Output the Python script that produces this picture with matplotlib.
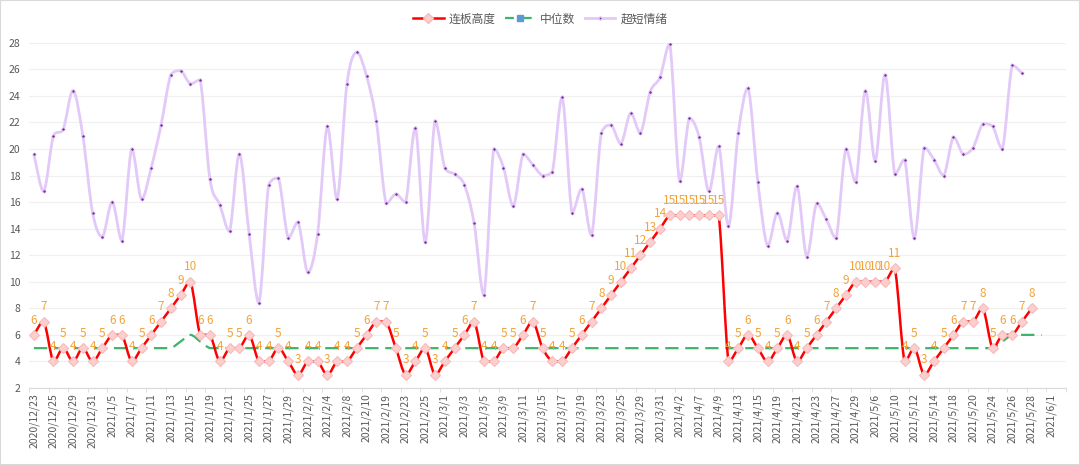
import numpy as np
import matplotlib.pyplot as plt
from matplotlib.path import Path
from matplotlib.patches import PathPatch, Rectangle
from matplotlib.lines import Line2D

plt.rcParams['font.family'] = ['Noto Sans CJK SC', 'DejaVu Sans']

# trading days (category axis), one spare slot at the end
months = [
    ("2020/12", [23, 24, 25, 28, 29, 30, 31]),
    ("2021/1", [4, 5, 6, 7, 8, 11, 12, 13, 14, 15, 18, 19, 20, 21, 22, 25, 26, 27, 28, 29]),
    ("2021/2", [1, 2, 3, 4, 5, 8, 9, 10, 18, 19, 22, 23, 24, 25, 26]),
    ("2021/3", [1, 2, 3, 4, 5, 8, 9, 10, 11, 12, 15, 16, 17, 18, 19, 22, 23, 24, 25, 26, 29, 30, 31]),
    ("2021/4", [1, 2, 6, 7, 8, 9, 12, 13, 14, 15, 16, 19, 20, 21, 22, 23, 26, 27, 28, 29, 30]),
    ("2021/5", [6, 7, 10, 11, 12, 13, 14, 17, 18, 19, 20, 21, 24, 25, 26, 27, 28, 31]),
    ("2021/6", [1]),
]
dates = [f"{m}/{d}" for m, days in months for d in days]

# 连板高度
height = [6, 7, 4, 5, 4, 5, 4, 5, 6, 6,
          4, 5, 6, 7, 8, 9, 10, 6, 6, 4,
          5, 5, 6, 4, 4, 5, 4, 3, 4, 4,
          3, 4, 4, 5, 6, 7, 7, 5, 3, 4,
          5, 3, 4, 5, 6, 7, 4, 4, 5, 5,
          6, 7, 5, 4, 4, 5, 6, 7, 8, 9,
          10, 11, 12, 13, 14, 15, 15, 15, 15, 15,
          15, 4, 5, 6, 5, 4, 5, 6, 4, 5,
          6, 7, 8, 9, 10, 10, 10, 10, 11, 4,
          5, 3, 4, 5, 6, 7, 7, 8, 5, 6,
          6, 7, 8]

# 中位数
median = [5] * 15 + [5.5, 6, 5.5] + [5] * 81 + [5.5, 6, 6, 6, 6]

# 超短情绪
mood = [19.6, 16.8, 21.0, 21.5, 24.4, 21.0, 15.2, 13.4, 16.0, 13.1,
        20.0, 16.2, 18.6, 21.8, 25.6, 25.9, 24.9, 25.2, 17.7, 15.8,
        13.8, 19.6, 13.6, 8.4, 17.3, 17.8, 13.3, 14.5, 10.7, 13.6,
        21.7, 16.2, 24.9, 27.3, 25.5, 22.1, 15.9, 16.6, 16.0, 21.6,
        13.0, 22.1, 18.6, 18.1, 17.3, 14.4, 9.0, 20.0, 18.6, 15.7,
        19.6, 18.8, 18.0, 18.3, 23.9, 15.2, 17.0, 13.5, 21.2, 21.8,
        20.4, 22.7, 21.2, 24.3, 25.4, 27.9, 17.6, 22.3, 20.9, 16.8,
        20.2, 14.2, 21.2, 24.6, 17.5, 12.7, 15.2, 13.1, 17.2, 11.9,
        15.9, 14.7, 13.3, 20.0, 17.5, 24.4, 19.1, 25.6, 18.1, 19.2,
        13.3, 20.1, 19.2, 18.0, 20.9, 19.6, 20.1, 21.9, 21.7, 20.0,
        26.3, 25.7]


def smooth_path(x, y):
    # smoothed line as cubic Bezier segments, control points kept inside each segment's range
    x = np.asarray(x, float)
    y = np.asarray(y, float)
    n = len(x)
    verts = [(x[0], y[0])]
    codes = [Path.MOVETO]
    for i in range(n - 1):
        p0 = max(i - 1, 0)
        p3 = min(i + 2, n - 1)
        lo, hi = min(y[i], y[i + 1]), max(y[i], y[i + 1])
        c1 = (x[i] + (x[i + 1] - x[p0]) / 6, np.clip(y[i] + (y[i + 1] - y[p0]) / 6, lo, hi))
        c2 = (x[i + 1] - (x[p3] - x[i]) / 6, np.clip(y[i + 1] - (y[p3] - y[i]) / 6, lo, hi))
        verts += [c1, c2, (x[i + 1], y[i + 1])]
        codes += [Path.CURVE4] * 3
    return Path(verts, codes)


red = '#FF0000'
green = '#3DB46A'
purple_line = '#E2C9F8'
label_col = '#F2A33A'

fig = plt.figure(figsize=(10.8, 4.65), dpi=100)
ax = fig.add_axes([29 / 1080, 77 / 465, 1037 / 1080, 345.3 / 465])

xg = np.arange(len(median))
xr = np.arange(len(height))
xm = np.arange(len(mood))

ax.add_patch(PathPatch(smooth_path(xg, median), fill=False, edgecolor=green,
                       lw=1.6, linestyle=(0, (6, 3)), zorder=3))
ax.add_patch(PathPatch(smooth_path(xr, height), fill=False, edgecolor=red,
                       lw=1.8, zorder=4))
ax.plot(xr, height, linestyle='none', marker='D', markersize=5.2,
        markerfacecolor='#FCCFCF', markeredgecolor='#F8BABA', markeredgewidth=0.8, zorder=5)
ax.add_patch(PathPatch(smooth_path(xm, mood), fill=False, edgecolor=purple_line,
                       lw=2.0, zorder=6))
ax.plot(xm, mood, linestyle='none', marker='o', markersize=2.3,
        markerfacecolor='#7A2E9E', markeredgecolor='#E6CCF9', markeredgewidth=0.5, zorder=7)

for xi, v in zip(xr, height):
    ax.annotate(str(v), (xi, v), xytext=(0, 6), textcoords='offset points',
                ha='center', va='bottom', fontsize=8.5, color=label_col, zorder=8)

ax.set_xlim(-0.5, len(dates) + 0.5)
ax.set_ylim(2, 28)
ax.set_yticks(np.arange(2, 29, 2))
ax.yaxis.grid(True, color='#F0F0F0', lw=0.9)
ax.set_axisbelow(True)

ax.set_xticks(np.arange(0, len(dates), 2))
ax.set_xticklabels(dates[::2], rotation=90, fontsize=7.5, color='#595959')
ax.set_xticks(np.arange(-0.5, len(dates) + 1, 2), minor=True)
ax.tick_params(axis='x', which='major', length=0, pad=4)
ax.tick_params(axis='x', which='minor', length=3, color='#D9D9D9')
ax.tick_params(axis='y', length=0, pad=6, labelsize=7.5, labelcolor='#595959')

for s in ['top', 'right', 'left']:
    ax.spines[s].set_visible(False)
ax.spines['bottom'].set_color('#D9D9D9')

handles = [
    Line2D([], [], color=red, lw=1.8, marker='D', markersize=5,
           markerfacecolor='#FCCFCF', markeredgecolor='#F8BABA'),
    Line2D([], [], color=green, lw=1.6, linestyle=(0, (4, 1.5, 1, 1.5)), marker='s', markersize=5,
           markerfacecolor='#5B9BD5', markeredgecolor='#5B9BD5'),
    Line2D([], [], color=purple_line, lw=2.0, marker='o', markersize=2.3,
           markerfacecolor='#7A2E9E', markeredgecolor='#E6CCF9'),
]
fig.legend(handles, ['连板高度', '中位数', '超短情绪'], loc='center',
           bbox_to_anchor=(0.5, 1 - 19 / 465), ncol=3, frameon=False,
           fontsize=8.5, handlelength=2.6, columnspacing=0.8, handletextpad=0.4,
           labelcolor='#595959')

fig.patches.append(Rectangle((0, 0), 1, 1, transform=fig.transFigure, fill=False,
                             edgecolor='#D9D9D9', lw=1.5))

fig.savefig('out.png', dpi=100)
